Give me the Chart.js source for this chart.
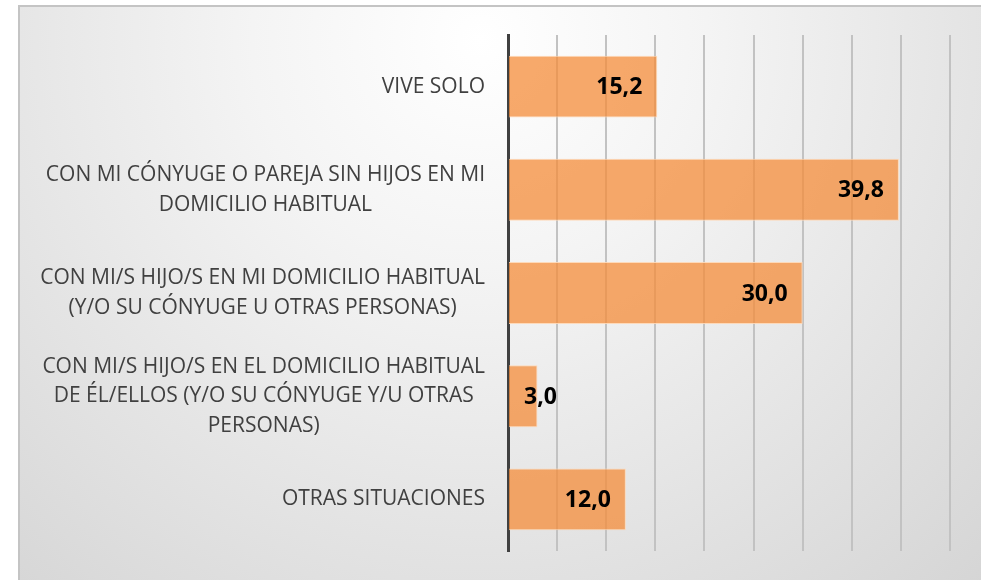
<!DOCTYPE html>
<html lang="es">
<head>
<meta charset="utf-8">
<title>Situación de convivencia</title>
<script src="https://cdn.jsdelivr.net/npm/chart.js@4.4.0/dist/chart.umd.min.js"></script>
<style>
    html, body { margin: 0; padding: 0; background: #ffffff; }
    #wrap { width: 981px; height: 580px; position: relative; }
</style>
</head>
<body>
<div id="wrap"><canvas id="grafico"></canvas></div>
<script>
// --- Datos ---
const categorias = [
    ['VIVE SOLO'],
    ['CON MI CÓNYUGE O PAREJA SIN HIJOS EN MI', 'DOMICILIO HABITUAL'],
    ['CON MI/S HIJO/S EN MI DOMICILIO HABITUAL', '(Y/O SU CÓNYUGE U OTRAS PERSONAS)'],
    ['CON MI/S HIJO/S EN EL DOMICILIO HABITUAL', 'DE ÉL/ELLOS (Y/O SU CÓNYUGE Y/U OTRAS', 'PERSONAS)'],
    ['OTRAS SITUACIONES']
];
const valores = [15.2, 39.8, 30.0, 3.0, 12.0];
const ejeMin = 0;
const ejeMax = 45;
const ejePaso = 5;

const fuente = '"Open Sans", Lato, sans-serif';
const anchoEtiquetas = 508 - 20;

// Fondo con degradado y marco gris
const fondo = {
    id: 'fondo',
    beforeDraw(chart) {
        const c = chart.ctx;
        c.save();
        c.fillStyle = '#ffffff';
        c.fillRect(0, 0, chart.width, chart.height);
        const g = c.createRadialGradient(480, 40, 0, 480, 40, 760);
        g.addColorStop(0, '#ffffff');
        g.addColorStop(0.3, '#f4f4f4');
        g.addColorStop(1, '#d4d4d4');
        c.fillStyle = g;
        c.fillRect(19, 6, chart.width, chart.height);
        c.strokeStyle = '#c4c4c4';
        c.lineWidth = 2;
        c.strokeRect(19, 6, chart.width + 10, chart.height + 10);
        c.restore();
    }
};

// Etiquetas de categoría: bloque alineado a la derecha, líneas centradas
const etiquetasY = {
    id: 'etiquetasY',
    afterDraw(chart) {
        const c = chart.ctx;
        const y = chart.scales.y;
        const derecha = y.right - 23;
        const alto = 29.5;
        c.save();
        c.font = '21px ' + fuente;
        c.fillStyle = '#404040';
        c.textAlign = 'center';
        c.textBaseline = 'middle';
        categorias.forEach((lineas, i) => {
            const ancho = Math.max(...lineas.map(l => c.measureText(l).width));
            const cx = derecha - ancho / 2;
            const cy = y.getPixelForValue(i);
            const y0 = cy - (lineas.length - 1) * alto / 2;
            lineas.forEach((l, k) => c.fillText(l, cx, y0 + k * alto));
        });
        c.restore();
    }
};

// Valores dentro del extremo de cada barra
const etiquetasValor = {
    id: 'etiquetasValor',
    afterDatasetsDraw(chart) {
        const c = chart.ctx;
        const meta = chart.getDatasetMeta(0);
        c.save();
        c.font = 'bold 23px ' + fuente;
        c.fillStyle = '#000000';
        c.textAlign = 'right';
        c.textBaseline = 'middle';
        meta.data.forEach((barra, i) => {
            const texto = valores[i].toFixed(1).replace('.', ',');
            const w = c.measureText(texto).width;
            const x = Math.max(barra.x - 15, barra.base + 15 + w);
            c.fillText(texto, x, barra.y + 1);
        });
        c.restore();
    }
};

new Chart(document.getElementById('grafico'), {
    type: 'bar',
    data: {
        labels: categorias,
        datasets: [{
            data: valores,
            backgroundColor: 'rgba(245, 142, 60, 0.76)',
            borderColor: 'rgba(255, 215, 180, 0.9)',
            borderWidth: 1,
            barPercentage: 0.6,
            categoryPercentage: 1
        }]
    },
    options: {
        indexAxis: 'y',
        responsive: true,
        maintainAspectRatio: false,
        animation: false,
        layout: { padding: { left: 20, right: 31, top: 35, bottom: 29 } },
        plugins: {
            legend: { display: false },
            tooltip: { enabled: false }
        },
        scales: {
            x: {
                min: ejeMin,
                max: ejeMax,
                ticks: { display: false, stepSize: ejePaso },
                grid: { color: '#c2c2c2', lineWidth: 2, drawTicks: false },
                border: { display: false },
                afterFit(scale) { scale.height = 0; }
            },
            y: {
                ticks: { display: false },
                grid: { display: false, drawTicks: false },
                border: { color: '#404040', width: 3 },
                afterFit(scale) { scale.width = anchoEtiquetas; }
            }
        }
    },
    plugins: [fondo, etiquetasY, etiquetasValor]
});
</script>
</body>
</html>
